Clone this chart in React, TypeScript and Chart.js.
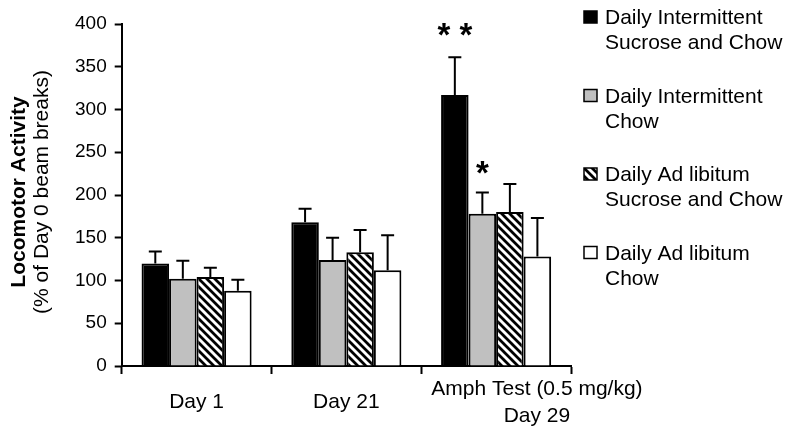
import React, { useEffect, useRef } from "react";
import { Chart, registerables } from "chart.js";

Chart.register(...registerables);

// ---------- data ----------
const categories: (string | string[])[] = ["Day 1", "Day 21", ["Amph Test (0.5 mg/kg)", "Day 29"]];

const seriesNames: string[][] = [
  ["Daily Intermittent", "Sucrose and Chow"],
  ["Daily Intermittent", "Chow"],
  ["Daily Ad libitum", "Sucrose and Chow"],
  ["Daily Ad libitum", "Chow"],
];

const intermittentSucrose = [120, 168, 317];
const intermittentSucroseErr = [14, 16, 44];
const intermittentChow = [102, 124, 178];
const intermittentChowErr = [21, 26, 25];
const adLibSucrose = [104, 133, 180];
const adLibSucroseErr = [11, 26, 33];
const adLibChow = [88, 112, 128];
const adLibChowErr = [13, 41, 45];

const significance: string[][] = [
  ["", "", "* *"],
  ["", "", "*"],
  ["", "", ""],
  ["", "", ""],
];

const yMin = 0;
const yMax = 400;
const yStep = 50;

const yTitleBold = "Locomotor Activity";
const yTitleSub = "(% of Day 0 beam breaks)";

// ---------- styling ----------
const FONT = "'Liberation Sans', Arial, sans-serif";

function makeHatch(): CanvasPattern | string {
  const c = document.createElement("canvas");
  c.width = 8;
  c.height = 8;
  const ctx = c.getContext("2d");
  if (!ctx) return "#888";
  ctx.fillStyle = "#fff";
  ctx.fillRect(0, 0, 8, 8);
  ctx.strokeStyle = "#000";
  ctx.lineWidth = 2.8;
  ctx.lineCap = "square";
  ctx.beginPath();
  for (const k of [-8, 0, 8]) {
    ctx.moveTo(k - 2, -2);
    ctx.lineTo(k + 10, 10);
  }
  ctx.stroke();
  const p = ctx.createPattern(c, "repeat");
  return p || "#888";
}

export default function App() {
  const ref = useRef<HTMLCanvasElement | null>(null);

  useEffect(() => {
    document.body.style.margin = "0";
    const canvas = ref.current;
    if (!canvas) return;
    const hatch = makeHatch();
    const fills: any[] = ["#000000", "#c0c0c0", hatch, "#ffffff"];
    const values = [intermittentSucrose, intermittentChow, adLibSucrose, adLibChow];
    const errors = [intermittentSucroseErr, intermittentChowErr, adLibSucroseErr, adLibChowErr];

    const overlay = {
      id: "overlay",
      afterDatasetsDraw(chart: any) {
        const ctx = chart.ctx;
        const yScale = chart.scales.y;
        ctx.save();
        ctx.strokeStyle = "#000";
        ctx.lineWidth = 2;
        values.forEach((vals, i) => {
          const meta = chart.getDatasetMeta(i);
          vals.forEach((v, j) => {
            const bar = meta.data[j];
            if (!bar) return;
            const top = yScale.getPixelForValue(v + errors[i][j]);
            const x = bar.x;
            ctx.beginPath();
            ctx.moveTo(x, bar.y);
            ctx.lineTo(x, top);
            ctx.moveTo(x - 6.5, top);
            ctx.lineTo(x + 6.5, top);
            ctx.stroke();
            const sig = significance[i][j];
            if (sig) {
              ctx.fillStyle = "#000";
              ctx.font = `bold 33px ${FONT}`;
              ctx.textAlign = "center";
              ctx.textBaseline = "alphabetic";
              ctx.fillText(sig, x, top - (sig.length > 1 ? 11 : 8));
            }
          });
        });
        ctx.restore();
      },
      afterDraw(chart: any) {
        const ctx = chart.ctx;
        const area = chart.chartArea;
        ctx.save();
        const cy = (area.top + area.bottom) / 2 - 3;
        ctx.fillStyle = "#000";
        ctx.textAlign = "center";
        ctx.textBaseline = "middle";
        ctx.translate(19, cy);
        ctx.rotate(-Math.PI / 2);
        ctx.font = `bold 21px ${FONT}`;
        ctx.fillText(yTitleBold, 0, 0);
        ctx.font = `21px ${FONT}`;
        ctx.fillText(yTitleSub, 0, 23);
        ctx.restore();

        ctx.save();
        ctx.font = `21px ${FONT}`;
        ctx.textAlign = "left";
        ctx.textBaseline = "alphabetic";
        const boxX = area.right + 13;
        const textX = area.right + 34;
        seriesNames.forEach((lines, i) => {
          const base = area.top + i * 78.5;
          ctx.fillStyle = fills[i];
          ctx.fillRect(boxX, base - 13, 13, 12);
          ctx.strokeStyle = "#000";
          ctx.lineWidth = 1.5;
          ctx.strokeRect(boxX, base - 13, 13, 12);
          ctx.fillStyle = "#000";
          lines.forEach((t, k) => ctx.fillText(t, textX, base + k * 25));
        });
        ctx.restore();
      },
    };

    const chart = new Chart(canvas, {
      type: "bar",
      data: {
        labels: categories as any,
        datasets: values.map((vals, i) => ({
          label: seriesNames[i].join(" "),
          data: vals,
          backgroundColor: fills[i],
          borderColor: "#000",
          borderWidth: 2,
        })),
      },
      options: {
        responsive: false,
        animation: false,
        layout: { padding: { left: 67, right: 229, top: 24, bottom: 0 } },
        datasets: { bar: { categoryPercentage: 0.735, barPercentage: 1 } },
        plugins: {
          legend: { display: false },
          tooltip: { enabled: false },
        },
        scales: {
          x: {
            afterFit: (scale: any) => {
              scale.height = 73;
            },
            grid: {
              display: true,
              drawOnChartArea: false,
              offset: true,
              tickLength: 8,
              tickColor: "#000",
              tickWidth: 2,
            },
            border: { color: "#000", width: 2 },
            ticks: {
              color: "#000",
              font: { size: 21, family: FONT, lineHeight: 1.28 },
              padding: 15,
              maxRotation: 0,
              autoSkip: false,
              crossAlign: "center",
              callback: (_v: any, idx: number) => {
                const l = categories[idx];
                if (Array.isArray(l)) {
                  const pad = " ".repeat(14);
                  return l.map((s) => pad + s);
                }
                return l;
              },
            },
          },
          y: {
            min: yMin,
            max: yMax,
            grid: {
              display: true,
              drawOnChartArea: false,
              tickLength: 7,
              tickColor: "#000",
              tickWidth: 2,
            },
            border: { color: "#000", width: 2 },
            ticks: {
              stepSize: yStep,
              color: "#000",
              font: { size: 19, family: FONT },
              padding: 8,
            },
          },
        },
      },
      plugins: [overlay],
    } as any);

    return () => chart.destroy();
  }, []);

  return (
    <div style={{ width: 800, height: 439 }}>
      <canvas ref={ref} width={800} height={439} style={{ display: "block" }} />
    </div>
  );
}
